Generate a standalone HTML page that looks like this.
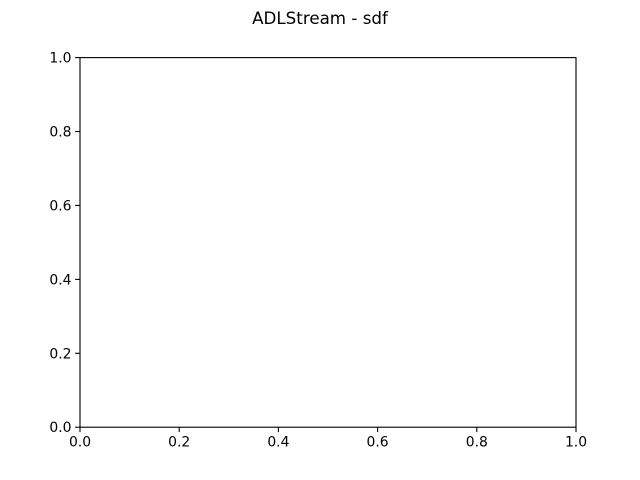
<!DOCTYPE html>
<html>
<head>
<meta charset="utf-8">
<style>
  html, body { margin: 0; padding: 0; background: #fff; }
  svg { display: block; }
  text { font-family: "DejaVu Sans", "Liberation Sans", sans-serif; fill: #000; }
</style>
</head>
<body>
<svg id="chart" width="640" height="480" viewBox="0 0 640 480">
  <rect x="0" y="0" width="640" height="480" fill="#fff"/>
  <text x="320" y="24" font-size="16.7" text-anchor="middle">ADLStream - sdf</text>
  <g id="axes"></g>
</svg>
<script>
const xTicks = [0.0, 0.2, 0.4, 0.6, 0.8, 1.0];
const yTicks = [0.0, 0.2, 0.4, 0.6, 0.8, 1.0];
const xDomain = [0, 1];
const yDomain = [0, 1];

const L = 80, R = 576, T = 57.6, B = 427.2;
const NS = 'http://www.w3.org/2000/svg';
const g = document.getElementById('axes');
const xs = v => L + (v - xDomain[0]) / (xDomain[1] - xDomain[0]) * (R - L);
const ys = v => B - (v - yDomain[0]) / (yDomain[1] - yDomain[0]) * (B - T);

function mk(tag, attrs) {
  const e = document.createElementNS(NS, tag);
  for (const k in attrs) e.setAttribute(k, attrs[k]);
  g.appendChild(e);
  return e;
}

xTicks.forEach(v => {
  const x = xs(v);
  const t = mk('line', {x1: x, x2: x, y1: B, y2: B + 4.9, stroke: '#000', 'stroke-width': 1.1});
  
  
  const l = mk('text', {x: x, y: B + 19.5, 'font-size': 13.9, 'text-anchor': 'middle'});
  l.textContent = v.toFixed(1);
  
  
});
yTicks.forEach(v => {
  const y = ys(v);
  const t = mk('line', {x1: L - 4.9, x2: L, y1: y, y2: y, stroke: '#000', 'stroke-width': 1.1});
  
  
  const l = mk('text', {x: L - 8.5, y: y + 5, 'font-size': 13.9, 'text-anchor': 'end'});
  l.textContent = v.toFixed(1);
  
  
});
const frame = mk('rect', {x: L, y: T, width: R - L, height: B - T, fill: 'none', stroke: '#000', 'stroke-width': 1.1});


</script>
</body>
</html>
